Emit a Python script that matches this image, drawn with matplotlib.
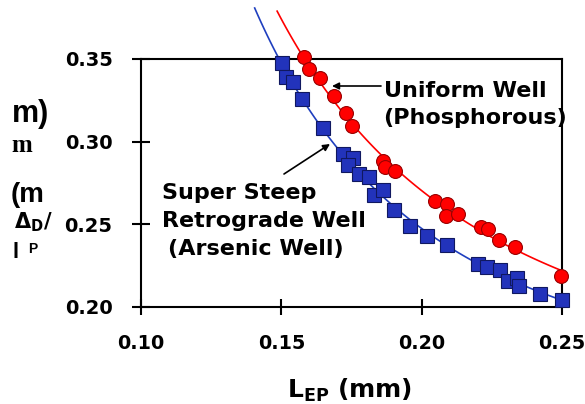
import numpy as np
import matplotlib
matplotlib.use("Agg")
import matplotlib.pyplot as plt

plt.rcParams['font.family'] = ['DejaVu Sans']
plt.rcParams['font.weight'] = 'bold'
plt.rcParams['mathtext.default'] = 'bf'

# uniform well (phosphorous) - red circles
p_x = [0.158, 0.160, 0.1639, 0.1686, 0.1731, 0.1751, 0.1864, 0.1870, 0.1906,
       0.2046, 0.2092, 0.2088, 0.2128, 0.2211, 0.2238, 0.2274, 0.2334, 0.2498]
p_y = [0.351, 0.3437, 0.3387, 0.3274, 0.3175, 0.3094, 0.2882, 0.2848, 0.2820,
       0.2642, 0.2622, 0.2549, 0.2561, 0.2484, 0.2470, 0.2404, 0.2360, 0.2186]

# super steep retrograde well (arsenic) - blue squares
a_x = [0.1502, 0.1516, 0.1543, 0.1573, 0.1650, 0.1718, 0.1755, 0.1739, 0.1778,
       0.1814, 0.1830, 0.1861, 0.1900, 0.1959, 0.2019, 0.2090, 0.2199, 0.2232,
       0.2280, 0.2307, 0.2340, 0.2346, 0.2420, 0.2500]
a_y = [0.3474, 0.3393, 0.3363, 0.3258, 0.3080, 0.2924, 0.2902, 0.2858, 0.2803,
       0.2787, 0.2680, 0.2710, 0.2586, 0.2491, 0.2430, 0.2373, 0.2262, 0.2242,
       0.2225, 0.2155, 0.2175, 0.2125, 0.2081, 0.2041]

# where the trend lines start (top of picture)
p_fit_start = 0.1485
a_fit_start = 0.1405

x_ticks = [0.10, 0.15, 0.20, 0.25]
y_ticks = [0.20, 0.25, 0.30, 0.35]

W, H = 585, 404
L, R, T, B = 141, 562, 59, 307   # axes box in pixels

fig = plt.figure(figsize=(W/100, H/100), dpi=100)
ax = fig.add_axes([L/W, 1-B/H, (R-L)/W, (B-T)/H])

def px(xp, yp):
    #pixel position -> data coords
    return (0.10 + (xp-L)/(R-L)*0.15, 0.35 - (yp-T)/(B-T)*0.15)

#trend lines: quadratic in log-log, fitted on the points
def trend(x, y, x0):
    c = np.polyfit(np.log(x), np.log(y), 2)
    xx = np.linspace(x0, 0.25, 100)
    return xx, np.exp(np.polyval(c, np.log(xx)))

xx, yy = trend(p_x, p_y, p_fit_start)
ax.plot(xx, yy, color='#ff0000', lw=1.2, clip_on=False, zorder=2)
xx, yy = trend(a_x, a_y, a_fit_start)
ax.plot(xx, yy, color='#1f3fbf', lw=1.2, clip_on=False, zorder=2)

ax.plot(p_x, p_y, 'o', ms=10, mfc='#ff0000', mec='#990000', mew=0.8, clip_on=False, zorder=3)
ax.plot(a_x, a_y, 's', ms=9.5, mfc='#2233bb', mec='#101860', mew=0.8, clip_on=False, zorder=3)

ax.set_xlim(0.10, 0.25)
ax.set_ylim(0.20, 0.35)
ax.set_xticks(x_ticks)
ax.set_yticks(y_ticks)
ax.set_xticklabels(['%.2f' % v for v in x_ticks], fontsize=13.8, fontweight='bold')
ax.set_yticklabels(['%.2f' % v for v in y_ticks], fontsize=14, fontweight='bold')
ax.tick_params(axis='x', direction='inout', length=11, width=1.5, pad=14)
ax.tick_params(axis='y', direction='inout', length=13, width=1.5, pad=14)
for s in ax.spines.values():
    s.set_linewidth(1.5)

# annotations
ax.annotate('', xy=px(332, 86), xytext=px(381, 86), annotation_clip=False,
            arrowprops=dict(arrowstyle='-|>', color='black', lw=1.2, shrinkA=0, shrinkB=0))
ax.annotate('', xy=px(330, 144), xytext=px(284, 174), annotation_clip=False,
            arrowprops=dict(arrowstyle='-|>', color='black', lw=1.2, shrinkA=0, shrinkB=0))
for txt, xp, yp in [('Uniform Well', 384, 97), ('(Phosphorous)', 383, 124),
                    ('Super Steep', 162, 199), ('Retrograde Well', 162, 227),
                    ('(Arsenic Well)', 168, 255)]:
    ax.text(*px(xp, yp), txt, fontsize=16, fontweight='bold', ha='left', va='baseline')

# x label, subscript EP
fig.text(287/W, 1-398/H, r'L$_{EP}$ (mm)', fontsize=18, fontweight='bold',
         ha='left', va='baseline')

# garbled y label pieces, as in the original
fig.text(12/W, 1-122/H, 'm)', fontsize=22, fontweight='bold', family='Liberation Sans', va='baseline')
fig.text(11/W, 1-152/H, 'm', fontsize=18, fontweight='bold', family='Liberation Serif', va='baseline')
fig.text(11/W, 1-202/H, '(m', fontsize=20, fontweight='bold', family='Liberation Sans', va='baseline')
fig.text(14/W, 1-228/H, r'$\Delta_D$/', fontsize=15, fontweight='bold', va='baseline')
fig.text(12/W, 1-258/H, 'l', fontsize=16, fontweight='bold', family='Liberation Sans', va='baseline')
fig.text(28/W, 1-253/H, 'P', fontsize=10, fontweight='bold', family='Liberation Sans', va='baseline')

fig.savefig('out.png', dpi=100)
